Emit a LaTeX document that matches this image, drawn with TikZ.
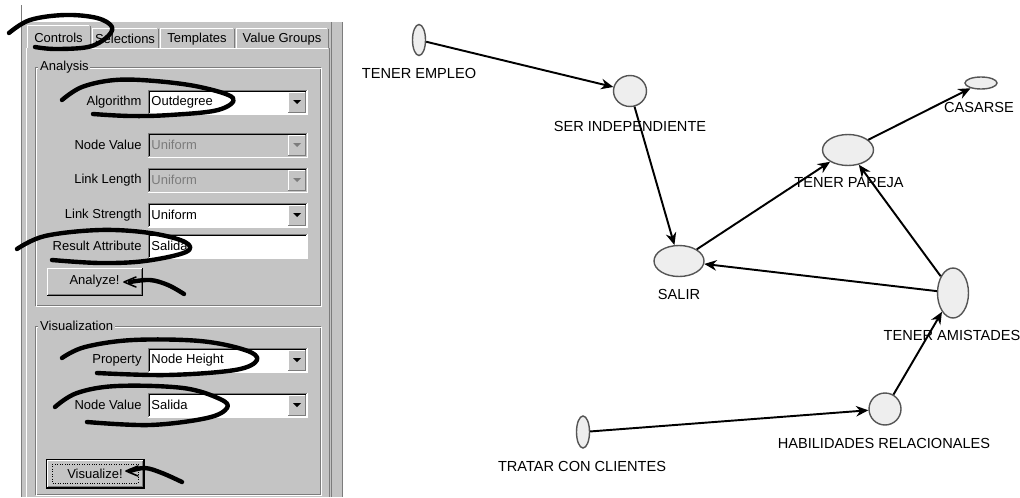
\documentclass[tikz,border=0pt]{standalone}
\usepackage{fontspec}
\setmainfont{Liberation Sans}
\usetikzlibrary{shapes.geometric,arrows.meta}
\definecolor{panel}{HTML}{C4C4C4}
\definecolor{edgegray}{HTML}{7C7C7C}
\definecolor{nodefill}{HTML}{EEEEEE}
\definecolor{nodeline}{HTML}{555555}
\newcommand\guifont{\fontsize{7.4}{9}\selectfont}
\newcommand\netfont{\fontsize{8.3}{10}\selectfont}
\tikzset{
  guitext/.style={font=\guifont, inner sep=0pt},
  vnode/.style={ellipse, draw=nodeline, fill=nodefill, line width=0.8pt, inner sep=0pt},
  vlabel/.style={font=\netfont, inner sep=0pt},
  link/.style={-{Stealth[length=7pt,width=6pt]}, line width=1.1pt},
  inkstroke/.style={line width=2.5pt, line cap=round, line join=round},
  inkthin/.style={line width=0.9pt, line cap=round, line join=round}
}
\newcommand\guifield[4]{%
  \fill[#4] (148,#2-12) rectangle (307,#2+12);
  \draw[edgegray] (148,#2+12) -- (148,#2-12) -- (307,#2-12);
  \draw[black] (149,#2+11) -- (149,#2-11) -- (306,#2-11);
  \draw[white] (148,#2+12) -- (307,#2+12) -- (307,#2-12);
  \node[guitext, anchor=west] (#1) at (151,#2) {#3};}
\newcommand\guidrop[2]{%
  \fill[panel] (288,#1-10) rectangle (305,#1+10);
  \draw[white] (288,#1+10) -- (288,#1-10) -- (305,#1-10);
  \draw[edgegray] (288,#1+10) -- (305,#1+10) -- (305,#1-10);
  \fill[#2] (293,#1-2) -- (301,#1-2) -- (297,#1+2) -- cycle;}
\newcommand\guibutton[6]{%
  \fill[panel] (#2,#3) rectangle (#4,#5);
  \draw[white] (#2,#5) -- (#2,#3) -- (#4,#3);
  \draw[edgegray] (#2+1,#5-1) -- (#4-1,#5-1) -- (#4-1,#3+1);
  \draw[black] (#2,#5) -- (#4,#5) -- (#4,#3);
  \node[guitext] (#1) at ({(#2+#4)/2},{(#3+#5)/2}) {#6};}
\newcommand\guitab[5]{%
  \draw[white] (#2,48) -- (#2,#4) -- (#3-1,#4);
  \draw[edgegray] (#3,#4+1) -- (#3,48);
  \node[guitext] (#1) at ({(#2+#3)/2},{(#4+48)/2+1}) {#5};}
\begin{document}
\begin{tikzpicture}[x=0.02cm, y=-0.02cm, line width=0.55pt]
  \useasboundingbox (0,0) rectangle (1020,497);
  \fill[white] (0,0) rectangle (1020,497);
  \fill[panel] (22,22) rectangle (343,497);
  \draw[edgegray] (21,5) -- (21,497);
  \draw[edgegray] (331,22) -- (331,497);
  \draw[edgegray] (342,22) -- (342,497);
  \guitab{tab-controls}{27}{90}{25}{Controls}
  \guitab{tab-selections}{92}{158}{28}{Selections}
  \guitab{tab-templates}{160}{234}{28}{Templates}
  \guitab{tab-groups}{236}{328}{28}{Value Groups}
  \draw[white] (26,497) -- (26,48) -- (27,48);
  \draw[white] (90,48) -- (328,48);
  \draw[edgegray] (329,48) -- (329,497);
  \draw[edgegray] (35,67) rectangle (320,305);
  \draw[white] (36,68) rectangle (321,306);
  \node[guitext, fill=panel, inner sep=1pt, anchor=west] (box-analysis) at (38,67) {Analysis};
  \draw[edgegray] (35,326) rectangle (320,494);
  \draw[white] (36,327) rectangle (321,495);
  \node[guitext, fill=panel, inner sep=1pt, anchor=west] (box-visual) at (38,326) {Visualization};
  \node[guitext, anchor=east] (lbl-algorithm) at (142,102) {Algorithm};
  \guifield{val-algorithm}{102}{Outdegree}{white}
  \guidrop{102}{black}
  \node[guitext, anchor=east] (lbl-nodevalue) at (142,145) {Node Value};
  \guifield{val-nodevalue}{145}{\color{edgegray}Uniform}{panel}
  \guidrop{145}{edgegray}
  \node[guitext, anchor=east] (lbl-linklength) at (142,180) {Link Length};
  \guifield{val-linklength}{180}{\color{edgegray}Uniform}{panel}
  \guidrop{180}{edgegray}
  \node[guitext, anchor=east] (lbl-linkstrength) at (142,215) {Link Strength};
  \guifield{val-linkstrength}{215}{Uniform}{white}
  \guidrop{215}{black}
  \node[guitext, anchor=east] (lbl-result) at (142,246) {Result Attribute};
  \guifield{val-result}{246}{Salida}{white}
  \guibutton{btn-analyze}{47}{268}{142}{295}{Analyze!}
  \node[guitext, anchor=east] (lbl-property) at (142,360) {Property};
  \guifield{val-property}{360}{Node Height}{white}
  \guidrop{360}{black}
  \node[guitext, anchor=east] (lbl-vnodevalue) at (142,405) {Node Value};
  \guifield{val-vnodevalue}{405}{Salida}{white}
  \guidrop{405}{black}
  \guibutton{btn-visualize}{47}{460}{143}{487}{Visualize!}
  \draw[black] (46,459) rectangle (144,488);
  \draw[black, densely dotted, line width=0.4pt] (52,464) rectangle (138,483);
  \draw[inkstroke] plot[smooth, tension=0.6] coordinates {(9,33) (30,20) (65,15) (97,18) (112,27) (106,38) (88,47) (55,49) (35,47)};
  \draw[inkstroke] plot[smooth, tension=0.6] coordinates {(62,100) (82,87) (115,80) (155,81) (200,87) (233,98) (218,110) (170,115) (130,116) (93,114)};
  \draw[inkstroke] plot[smooth, tension=0.6] coordinates {(17,249) (45,236) (100,230) (150,233) (185,242) (186,252) (145,261) (100,263) (52,260)};
  \draw[inkstroke] plot[smooth, tension=0.6] coordinates {(184,294) (168,285) (150,280) (130,282)};
  \draw[inkthin] (136,277) -- (124,282) -- (136,287);
  \draw[inkstroke] plot[smooth, tension=0.6] coordinates {(62,358) (85,347) (133,340) (200,341) (245,350) (257,360) (235,370) (167,375) (97,373)};
  \draw[inkstroke] plot[smooth, tension=0.6] coordinates {(55,407) (77,393) (117,386) (183,388) (220,399) (227,408) (207,418) (150,425) (87,422)};
  \draw[inkstroke] plot[smooth, tension=0.6] coordinates {(182,482) (162,473) (145,468) (130,471)};
  \draw[inkthin] (138,466) -- (126,471) -- (138,476);
  \node[vnode, minimum width=0.26cm, minimum height=0.62cm] (empleo) at (419,40) {};
  \node[vnode, minimum width=0.66cm, minimum height=0.62cm] (indep) at (630,91) {};
  \node[vnode, minimum width=0.64cm, minimum height=0.24cm] (casarse) at (981,83) {};
  \node[vnode, minimum width=1.02cm, minimum height=0.62cm] (pareja) at (848,150) {};
  \node[vnode, minimum width=1.00cm, minimum height=0.62cm] (salir) at (679,261) {};
  \node[vnode, minimum width=0.62cm, minimum height=1.00cm] (amistades) at (953,293) {};
  \node[vnode, minimum width=0.64cm, minimum height=0.64cm] (habil) at (885,409) {};
  \node[vnode, minimum width=0.26cm, minimum height=0.64cm] (tratar) at (583,432) {};
  \node[vlabel] (empleo-lbl) at (419,73) {TENER EMPLEO};
  \node[vlabel] (indep-lbl) at (630,126) {SER INDEPENDIENTE};
  \node[vlabel] (casarse-lbl) at (979,107) {CASARSE};
  \node[vlabel] (pareja-lbl) at (849,183) {TENER PAREJA};
  \node[vlabel] (salir-lbl) at (679,294) {SALIR};
  \node[vlabel] (amistades-lbl) at (952,335) {TENER AMISTADES};
  \node[vlabel] (habil-lbl) at (884,443) {HABILIDADES RELACIONALES};
  \node[vlabel] (tratar-lbl) at (582,466) {TRATAR CON CLIENTES};
  \draw[link] (empleo) -- (indep);
  \draw[link] (indep) -- (salir);
  \draw[link] (salir) -- (pareja);
  \draw[link] (pareja) -- (casarse);
  \draw[link] (amistades) -- (salir);
  \draw[link] (amistades) -- (pareja);
  \draw[link] (habil) -- (amistades);
  \draw[link] (tratar) -- (habil);
\end{tikzpicture}
\end{document}
